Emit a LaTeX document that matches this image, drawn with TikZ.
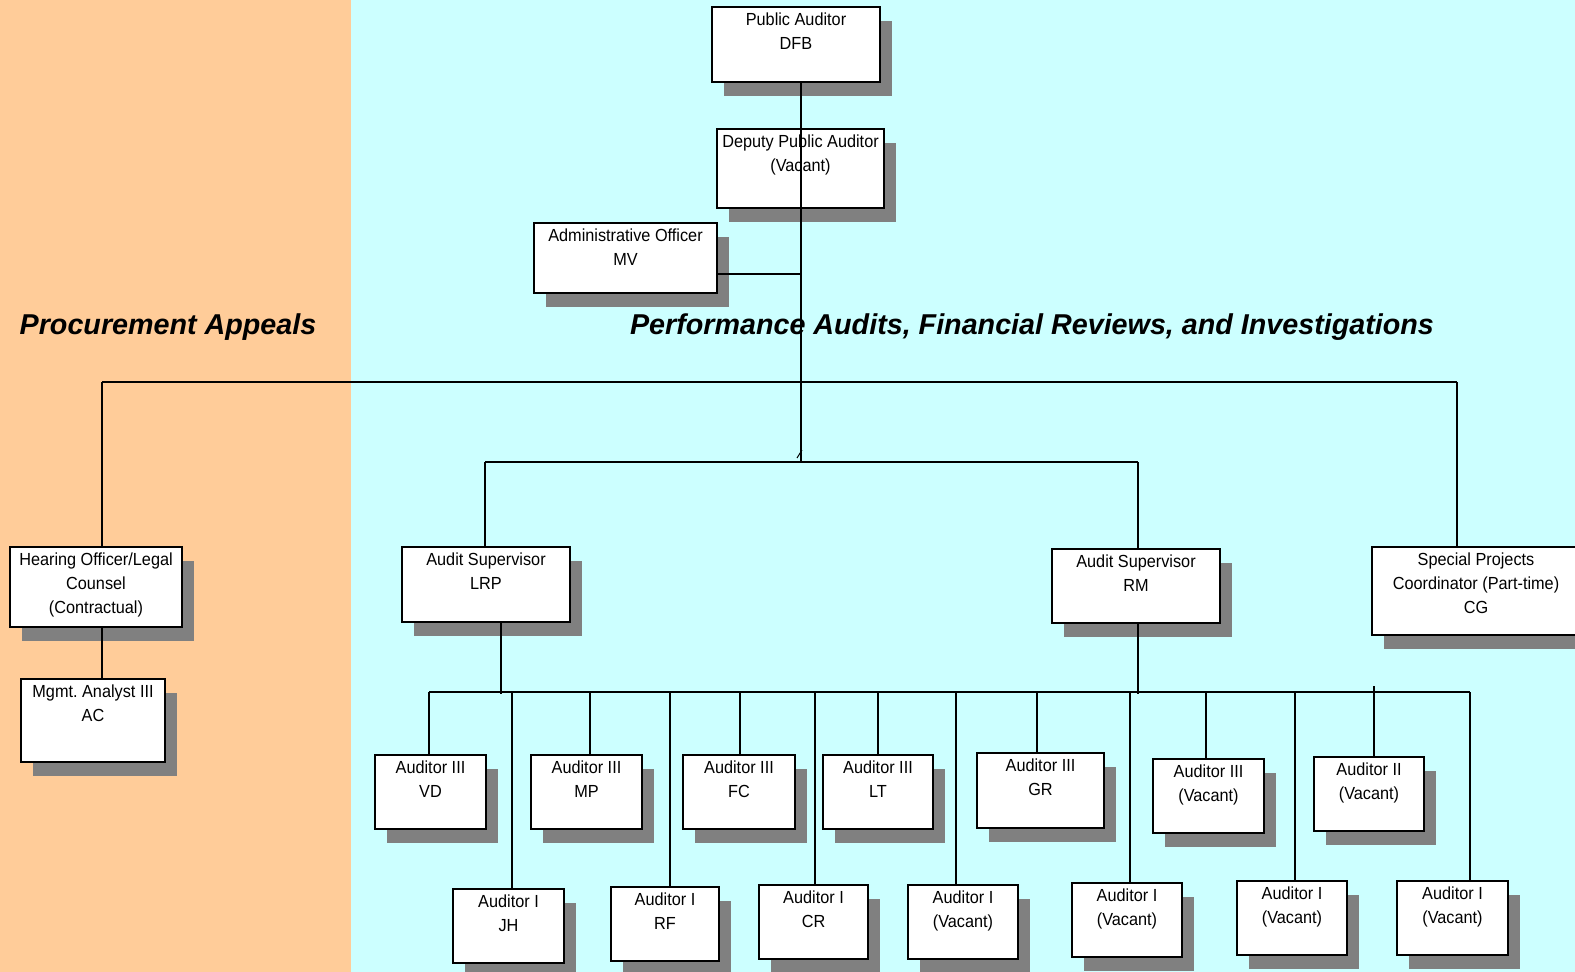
\documentclass[tikz,border=0pt]{standalone}
\usepackage{fontspec}
\setmainfont{Liberation Sans}
\newfontfamily\boxfont[FakeStretch=0.93]{Liberation Sans}
\definecolor{orangebg}{HTML}{FFCC99}
\definecolor{cyanbg}{HTML}{CCFFFF}
\definecolor{shadowc}{HTML}{808080}
\tikzset{
  boxst/.style={draw=black, fill=white, line width=1.3pt, inner sep=0pt},
  txt/.style={align=center, inner sep=0pt, font=\boxfont\fontsize{17.5}{24}\selectfont},
  conn/.style={line width=1.3pt, draw=black},
  titlest/.style={inner sep=0pt, font=\fontsize{28.7}{34}\selectfont\bfseries\itshape}
}
\newcommand{\orgbox}[6]{%
  \fill[shadowc] (#2+12,#3+14) rectangle (#4+12,#5+14);
  \node[boxst, minimum width=(#4-#2)*1pt, minimum height=(#5-#3)*1pt] (#1) at ({(#2+#4)/2},{(#3+#5)/2}) {};
  \node[txt, anchor=north] (#1-t) at ([yshift=-6pt]#1.north) {#6};
}
\begin{document}
\frenchspacing
\begin{tikzpicture}[x=1pt,y=-1pt]
\useasboundingbox (0,0) rectangle (1575,972);
\fill[orangebg] (0,0) rectangle (351,972);
\fill[cyanbg] (351,0) rectangle (1575,972);

\node[titlest] (t1) at (168,327) {Procurement Appeals};
\node[titlest] (t2) at (1032,327) {Performance Audits, Financial Reviews, and Investigations};

\orgbox{pa}{712}{7}{880}{82}{Public Auditor\\DFB}
\orgbox{dpa}{717}{129}{884}{208}{Deputy Public Auditor\\(Vacant)}
\orgbox{adm}{534}{223}{717}{293}{Administrative Officer\\MV}
\orgbox{hear}{10}{547}{182}{627}{Hearing Officer/Legal\\Counsel\\(Contractual)}
\orgbox{mgmt}{21}{679}{165}{762}{Mgmt. Analyst III\\AC}
\orgbox{lrp}{402}{547}{570}{622}{Audit Supervisor\\LRP}
\orgbox{rm}{1052}{549}{1220}{623}{Audit Supervisor\\RM}
\orgbox{spc}{1372}{547}{1580}{635}{Special Projects\\Coordinator (Part-time)\\CG}
\orgbox{vd}{375}{755}{486}{829}{Auditor III\\VD}
\orgbox{mp}{531}{755}{642}{829}{Auditor III\\MP}
\orgbox{fc}{683}{755}{795}{829}{Auditor III\\FC}
\orgbox{lt}{823}{755}{933}{829}{Auditor III\\LT}
\orgbox{gr}{977}{753}{1104}{828}{Auditor III\\GR}
\orgbox{athv}{1153}{759}{1264}{833}{Auditor III\\(Vacant)}
\orgbox{atwv}{1314}{757}{1424}{831}{Auditor II\\(Vacant)}
\orgbox{jh}{453}{889}{564}{963}{Auditor I\\JH}
\orgbox{rf}{611}{887}{719}{961}{Auditor I\\RF}
\orgbox{cr}{759}{885}{868}{959}{Auditor I\\CR}
\orgbox{aa}{908}{885}{1018}{959}{Auditor I\\(Vacant)}
\orgbox{ab}{1072}{883}{1182}{957}{Auditor I\\(Vacant)}
\orgbox{ac}{1237}{881}{1347}{955}{Auditor I\\(Vacant)}
\orgbox{ad}{1397}{881}{1508}{955}{Auditor I\\(Vacant)}

% junction coordinates
\coordinate (top) at (801,382);
\coordinate (mid) at (801,462);

% main spine
\draw[conn] (801,82 |- pa.south) -- (mid);
\draw[conn] (adm.east |- 0,274) -- (801,274);
% top horizontal
\draw[conn] (102,382) -- (1457,382);
\draw[conn] (102,382) -- (102,382 |- hear.north);
\draw[conn] (1457,382) -- (1457,382 |- spc.north);
% tick
\draw[line width=1pt] (797,458) -- (802,450);
% second horizontal
\draw[conn] (485,462) -- (1138,462);
\draw[conn] (485,462) -- (485,462 |- lrp.north);
\draw[conn] (1138,462) -- (1138,462 |- rm.north);
% hearing to mgmt
\draw[conn] (102,0 |- hear.south) -- (102,0 |- mgmt.north);
% supervisors down
\draw[conn] (501,0 |- lrp.south) -- (501,694);
\draw[conn] (1138,0 |- rm.south) -- (1138,694);
% bus
\draw[conn] (429,692) -- (1470,692);
\foreach \xx/\nn in {429/vd,590/mp,740/fc,878/lt,1037/gr,1206/athv,512/jh,670/rf,815/cr,956/aa,1130/ab,1295/ac,1470/ad}{
  \draw[conn] (\xx,692) -- (\xx,692 |- \nn.north);
}
\draw[conn] (1374,686) -- (1374,686 |- atwv.north);
\end{tikzpicture}
\end{document}
